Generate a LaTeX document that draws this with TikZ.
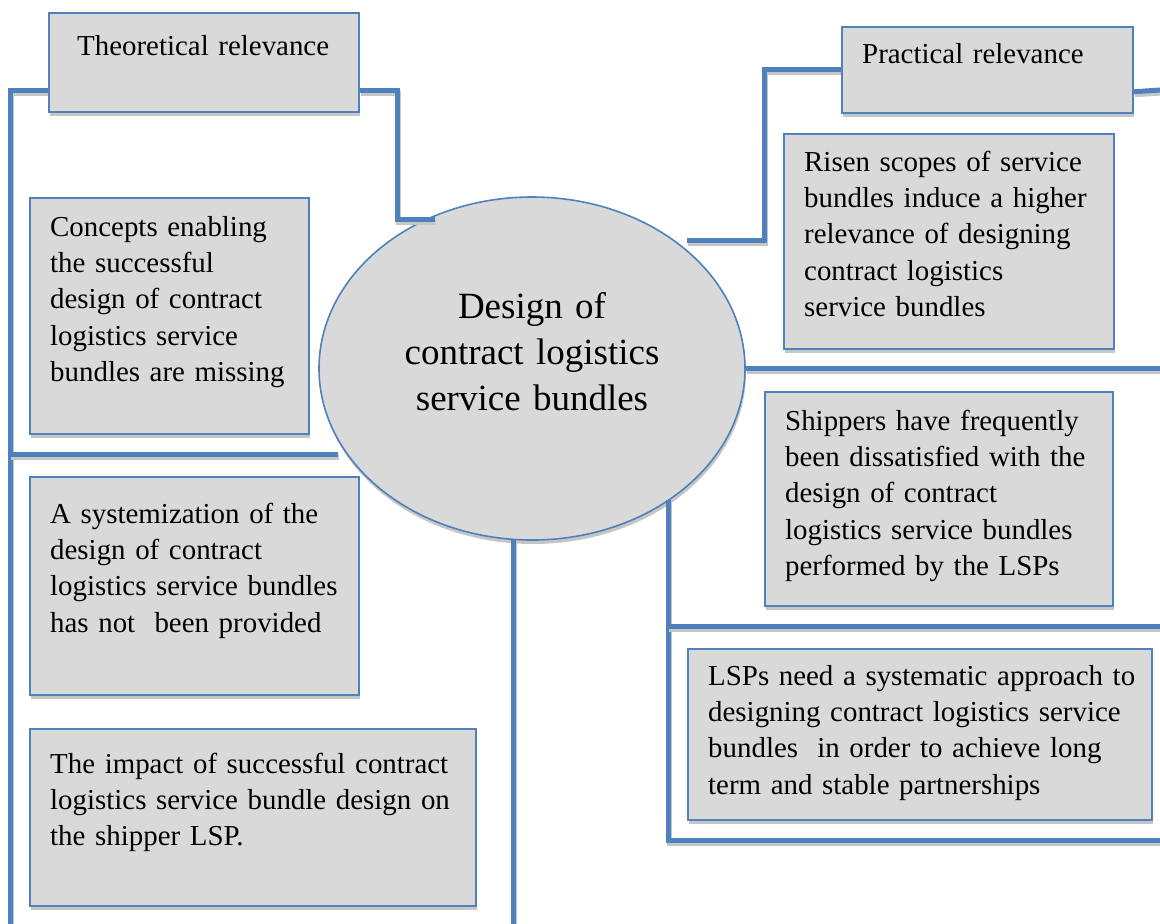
\documentclass[tikz,border=0pt]{standalone}
\usepackage{fontspec}
\setmainfont{Liberation Serif}
\usetikzlibrary{shapes.geometric,shadows,backgrounds}

\definecolor{linkblue}{HTML}{4F81BD}
\definecolor{panelgray}{HTML}{D9D9D9}
\definecolor{shadegray}{HTML}{C6C6C6}

\begin{document}
\begin{tikzpicture}[x=1pt,y=-1pt,
  panel/.style={draw=linkblue, line width=1.8pt, fill=panelgray, anchor=north west,
    inner sep=0pt,
    drop shadow={shadow xshift=1pt, shadow yshift=-4pt, fill=shadegray, opacity=1}},
  paneltext/.style={anchor=base west, inner sep=0pt, text width=#1, align=left,
    font=\fontsize{28.9}{36.4}\selectfont},
  link/.style={draw=linkblue, line width=5pt,
    preaction={draw=shadegray, line width=5pt, transform canvas={shift={(1pt,-3pt)}}}},
  hub/.style={ellipse, draw=linkblue, line width=1.6pt, fill=panelgray, inner sep=0pt,
    minimum width=426pt, minimum height=343pt, text width=280pt, align=center,
    text height=30pt, text depth=131pt,
    font=\fontsize{37}{46}\selectfont,
    drop shadow={shadow xshift=1pt, shadow yshift=-4pt, fill=shadegray, opacity=1}}
]
\useasboundingbox (0,0) rectangle (1160,924);

% header boxes
\node[panel, minimum width=310pt, minimum height=99pt] (theo) at (48,12) {};
\node[panel, minimum width=291pt, minimum height=86pt] (prac) at (841,26) {};

% statement boxes
\node[panel, minimum width=279pt, minimum height=236pt] (concepts) at (29,197) {};
\node[panel, minimum width=329pt, minimum height=218pt] (syst) at (29,476) {};
\node[panel, minimum width=446pt, minimum height=177pt] (impact) at (29,728) {};
\node[panel, minimum width=330pt, minimum height=215pt] (risen) at (783,133) {};
\node[panel, minimum width=348pt, minimum height=214pt] (shippers) at (764,391) {};
\node[panel, minimum width=464pt, minimum height=171pt] (lsps) at (687,648) {};

% free ends and bends of the connectors
\coordinate (left-bottom) at (10,924);
\coordinate (left-branch) at (10,454);
\coordinate (left-branch-end) at (338,454);
\coordinate (theo-bend) at (397,219);
\coordinate (theo-tip) at (435,219);
\coordinate (prac-bend) at (764,240);
\coordinate (prac-tip) at (687,240);
\coordinate (prac-out) at (1160,90);
\coordinate (mid-out) at (1160,368.5);
\coordinate (lr-top) at (668,500);
\coordinate (lr-branch) at (668,626);
\coordinate (lr-branch-end) at (1160,626);
\coordinate (lr-end) at (1160,840);
\coordinate (bottom-top) at (513,539);
\coordinate (bottom-end) at (513,924);

% central topic and connectors, kept beneath the boxes
\begin{scope}[on background layer]
  \node[hub] (centre) at (532,368.5) {Design of\\contract logistics\\service bundles};
  \draw[link] ([yshift=22pt]theo.south west) -| (left-bottom);
  \draw[link] (left-branch) -- (left-branch-end);
  \draw[link] ([yshift=22pt]theo.south east) -| (theo-bend) -- (theo-tip);
  \draw[link] (prac.west) -| (prac-bend) -- (prac-tip);
  \draw[link] ([yshift=22pt]prac.south east) -- (prac-out);
  \draw[link] (centre.east) -- (mid-out);
  \draw[link] (lr-top) |- (lr-end);
  \draw[link] (lr-branch) -- (lr-branch-end);
  \draw[link] (bottom-top) -- (bottom-end);
\end{scope}

% texts
\node[paneltext=270pt] (theo-text) at (77,55) {Theoretical relevance};
\node[paneltext=260pt] (prac-text) at (862,63) {Practical relevance};
\node[paneltext=250pt] (concepts-text) at (50,236)
  {Concepts enabling\\the successful\\design of contract\\logistics service\\bundles are missing};
\node[paneltext=300pt] (risen-text) at (804,171)
  {Risen scopes of service\\bundles induce a higher\\relevance of designing\\contract logistics\\service bundles};
\node[paneltext=320pt] (shippers-text) at (785,430)
  {Shippers have frequently\\been dissatisfied with the\\design of contract\\logistics service bundles\\performed by the LSPs};
\node[paneltext=440pt] (lsps-text) at (708,685)
  {LSPs need a systematic approach to\\designing contract logistics service\\bundles\ \ in order to achieve long\\term and stable partnerships};
\node[paneltext=300pt] (syst-text) at (50,523)
  {A systemization of the\\design of contract\\logistics service bundles\\has not\ \ been provided};
\node[paneltext=420pt] (impact-text) at (50,773)
  {The impact of successful contract\\logistics service bundle design on\\the shipper LSP.};
\end{tikzpicture}
\end{document}
